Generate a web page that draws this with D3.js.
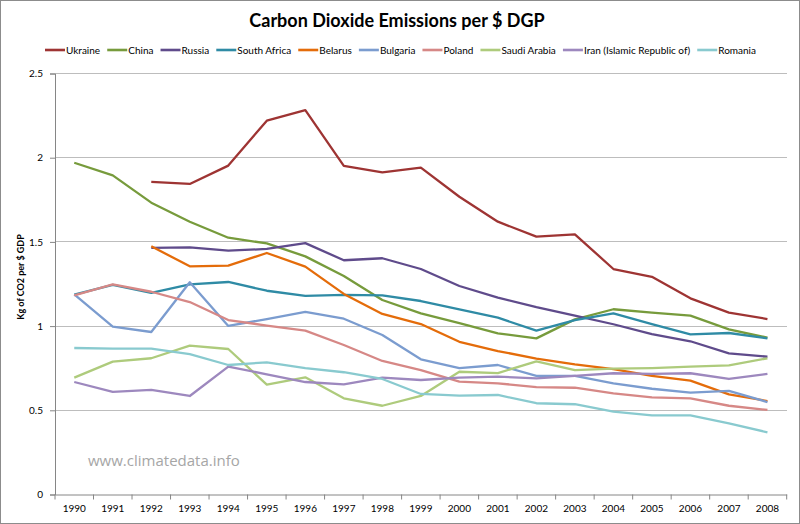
<!DOCTYPE html>
<html><head><meta charset="utf-8">
<script src="https://cdn.jsdelivr.net/npm/d3@7"></script>
<style>body{margin:0;background:#fff}svg{display:block}</style>
</head><body><svg id="c" width="800" height="524"></svg>
<script>
const years = ["1990","1991","1992","1993","1994","1995","1996","1997","1998","1999","2000","2001","2002","2003","2004","2005","2006","2007","2008"];
const yTicks = [0, 0.5, 1, 1.5, 2, 2.5];
const seriesNames = ["Ukraine","China","Russia","South Africa","Belarus","Bulgaria","Poland","Saudi Arabia","Iran (Islamic  Republic of)","Romania"];
const seriesColors = ["#9E3433","#779B3C","#5F4B8B","#2F8BA5","#E46C0A","#7B9CCF","#D68886","#AECB7C","#9D88BE","#89CACF"];
const ukraine = [null,null,1.857,1.844,1.953,2.22,2.283,1.951,1.913,1.941,1.768,1.62,1.531,1.545,1.339,1.293,1.165,1.08,1.042];
const china = [1.97,1.895,1.733,1.62,1.525,1.491,1.414,1.297,1.155,1.076,1.017,0.957,0.927,1.04,1.10,1.08,1.062,0.981,0.931];
const russia = [null,null,1.464,1.468,1.448,1.458,1.493,1.391,1.403,1.339,1.238,1.169,1.112,1.062,1.011,0.953,0.91,0.838,0.818];
const southAfrica = [1.187,1.245,1.198,1.248,1.262,1.21,1.179,1.185,1.183,1.149,1.10,1.05,0.973,1.036,1.076,1.012,0.951,0.959,0.927];
const belarus = [null,null,1.474,1.355,1.359,1.434,1.353,1.191,1.072,1.012,0.907,0.852,0.807,0.773,0.745,0.704,0.676,0.595,0.555];
const bulgaria = [1.189,0.997,0.965,1.26,1.001,1.042,1.084,1.044,0.947,0.803,0.751,0.769,0.704,0.704,0.66,0.628,0.605,0.615,0.549];
const poland = [1.183,1.248,1.204,1.143,1.036,1.003,0.973,0.888,0.793,0.739,0.67,0.66,0.638,0.634,0.601,0.577,0.571,0.527,0.502];
const saudiArabia = [0.694,0.789,0.809,0.884,0.864,0.652,0.696,0.571,0.527,0.585,0.729,0.721,0.791,0.739,0.747,0.751,0.759,0.767,0.809];
const iran = [0.668,0.609,0.621,0.585,0.759,0.714,0.668,0.654,0.694,0.68,0.694,0.70,0.69,0.704,0.72,0.716,0.72,0.686,0.716];
const romania = [0.87,0.866,0.866,0.833,0.769,0.785,0.751,0.726,0.686,0.597,0.587,0.591,0.542,0.536,0.492,0.47,0.47,0.423,0.369];
const seriesValues = [ukraine,china,russia,southAfrica,belarus,bulgaria,poland,saudiArabia,iran,romania];

const svg = d3.select("#c");
const font = "Lato, 'Liberation Sans', sans-serif";
const L = 55, R = 786.7, T = 73.5, B = 494.5;

svg.append("rect").attr("x",0.5).attr("y",0.5).attr("width",799).attr("height",523)
  .attr("fill","#fff").attr("stroke","#8c8c8c");

const x = d3.scaleBand().domain(years).range([L, R]).padding(0);
const y = d3.scaleLinear().domain([0, 2.5]).range([B, T]);

// gridlines
svg.append("g").selectAll("line").data(yTicks.filter(d => d > 0)).join("line")
  .attr("x1", L).attr("x2", R).attr("y1", d => y(d)).attr("y2", d => y(d))
  .attr("stroke", "#BDBDBD").attr("stroke-width", 1).attr("shape-rendering","crispEdges");

// y axis
const yAxis = svg.append("g").attr("transform", `translate(${L},0)`)
  .call(d3.axisLeft(y).tickValues(yTicks).tickFormat(d3.format("")).tickSize(5).tickPadding(7));
yAxis.select(".domain").attr("stroke", "#868686");
yAxis.selectAll(".tick line").attr("stroke", "#868686");
yAxis.selectAll("text").attr("font-family", font).attr("font-size", 10).attr("fill", "#000");

// x axis
const xAxis = svg.append("g").attr("transform", `translate(0,${B})`)
  .call(d3.axisBottom(x).tickSize(0).tickPadding(10));
xAxis.select(".domain").attr("stroke", "#868686");
xAxis.selectAll("text").attr("font-family", font).attr("font-size", 10).attr("fill", "#000");
svg.append("g").selectAll("line").data(d3.range(years.length + 1)).join("line")
  .attr("x1", i => L + i * x.step()).attr("x2", i => L + i * x.step())
  .attr("y1", B).attr("y2", B + 5).attr("stroke", "#868686");

// watermark
svg.append("text").attr("x", 88).attr("y", 466).attr("font-family", "'Open Sans', sans-serif")
  .attr("font-size", 15).attr("fill", "#A6A6A6").text("www.climatedata.info");

// lines
const line = d3.line().defined(d => d != null)
  .x((d, i) => x(years[i]) + x.bandwidth() / 2).y(d => y(d));
svg.append("g").selectAll("path").data(seriesValues).join("path")
  .attr("d", d => line(d)).attr("fill", "none")
  .attr("stroke", (d, i) => seriesColors[i]).attr("stroke-width", 2.3)
  .attr("stroke-linejoin", "round");

// title
svg.append("text").attr("x", 397).attr("y", 27).attr("text-anchor", "middle")
  .attr("font-family", font).attr("font-weight", "bold").attr("font-size", 18)
  .attr("fill", "#000").text("Carbon Dioxide Emissions per $ DGP");

// y title
svg.append("text").attr("transform", "translate(24,277) rotate(-90)").attr("text-anchor", "middle")
  .attr("font-family", font).attr("font-weight", "bold").attr("font-size", 9).attr("fill", "#000")
  .text("Kg of CO2 per $ GDP");

// legend
const lg = svg.append("g");
const items = seriesNames.map((n, i) => {
  const g = lg.append("g");
  g.append("line").attr("x1", 0).attr("x2", 20).attr("y1", 0).attr("y2", 0)
    .attr("stroke", seriesColors[i]).attr("stroke-width", 2.6);
  const t = g.append("text").attr("x", 21).attr("y", 3.5).attr("font-family", font)
    .attr("font-size", 10).attr("fill", "#000").text(n);
  return {g, w: 21 + t.node().getComputedTextLength()};
});
const startX = 45, endX = 756;
const tot = d3.sum(items, d => d.w);
const gap = (endX - startX - tot) / (items.length - 1);
let cx = startX;
items.forEach(it => { it.g.attr("transform", `translate(${cx},50)`); cx += it.w + gap; });
</script></body></html>
